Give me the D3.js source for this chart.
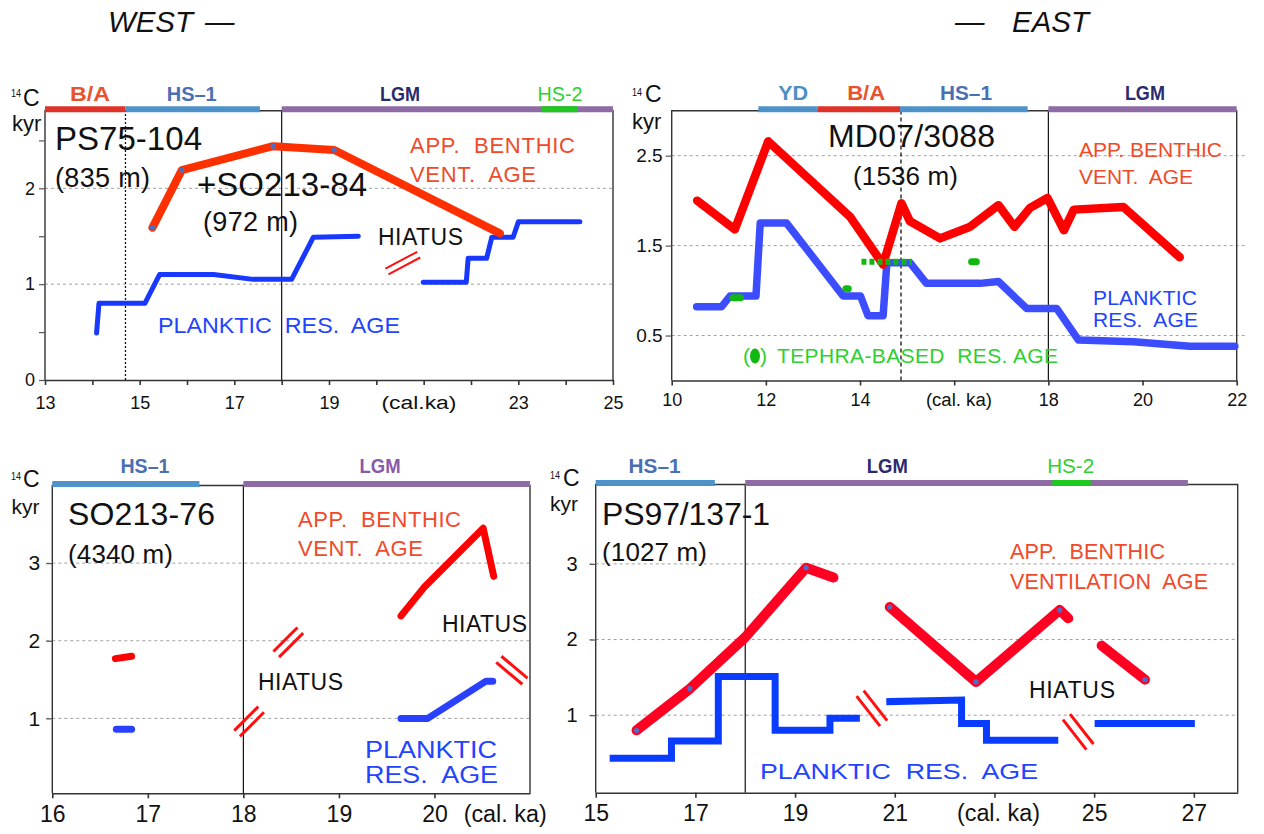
<!DOCTYPE html>
<html>
<head>
<meta charset="utf-8">
<script src="https://cdn.jsdelivr.net/npm/d3@7"></script>
<style>
  body { margin: 0; background: #fff; }
  svg text { font-family: "Liberation Sans", Arial, sans-serif; }
</style>
</head>
<body>
<svg id="chart" width="1264" height="834"></svg>
<script>
// ---------- data ----------
// PS75-104 + SO213-84 (west, top left)
const p1Ticks = [13, 14, 15, 16, 17, 18, 19, 20, 21, 22, 23, 24, 25];
const p1TickLabels = ["13", "", "15", "", "17", "", "19", "", "", "", "23", "", "25"];
const p1YTicks = [0, 0.5, 1, 1.5, 2, 2.5];
const p1YLabels = ["0", "", "1", "", "2", ""];
const p1Grid = [1, 2];
const p1Periods = [
  { name: "B/A", from: 13, to: 14.7 },
  { name: "HS–1", from: 14.7, to: 17.54 },
  { name: "LGM", from: 18, to: 25 },
  { name: "HS-2", from: 23.5, to: 24.25 }
];
const p1Benthic = [
  [[15.27, 1.59], [15.89, 2.19], [17.82, 2.44], [19.11, 2.40], [22.61, 1.53]]
];
const p1BenthicDots = [[15.27, 1.59], [15.89, 2.19], [17.82, 2.44], [19.11, 2.40]];
const p1Planktic = [
  [[14.09, 0.49], [14.14, 0.80], [15.11, 0.80], [15.42, 1.10], [16.56, 1.10], [17.40, 1.05],
   [18.21, 1.05], [18.67, 1.49], [19.62, 1.50]],
  [[20.99, 1.02], [21.90, 1.02], [21.94, 1.27], [22.33, 1.27], [22.44, 1.49], [22.89, 1.49],
   [23.00, 1.65], [24.30, 1.65]]
];
const p1Hiatus = [{ x: 20.56, y: 1.22, tilt: 28 }];

// MD07/3088 (east, top right)
const p2Ticks = [10, 12, 14, 16, 18, 20, 22];
const p2TickLabels = ["10", "12", "14", "", "18", "20", "22"];
const p2YTicks = [0.5, 1.5, 2.5];
const p2YLabels = ["0.5", "1.5", "2.5"];
const p2Grid = [0.5, 1.5, 2.5];
const p2Periods = [
  { name: "YD", from: 11.84, to: 13.1 },
  { name: "B/A", from: 13.1, to: 14.85 },
  { name: "HS–1", from: 14.85, to: 17.56 },
  { name: "LGM", from: 18, to: 22 }
];
const p2Benthic = [
  [[10.54, 2.00], [11.34, 1.68], [12.05, 2.66], [13.79, 1.82], [14.49, 1.29], [14.88, 1.97],
   [15.06, 1.77], [15.70, 1.58], [16.34, 1.71], [16.94, 1.95], [17.28, 1.71], [17.61, 1.92],
   [17.98, 2.03], [18.33, 1.67], [18.54, 1.90], [19.59, 1.93], [20.79, 1.37]]
];
const p2Planktic = [
  [[10.53, 0.82], [11.06, 0.82], [11.24, 0.94], [11.79, 0.94], [11.88, 1.75], [12.44, 1.75],
   [13.64, 0.94], [14.01, 0.94], [14.17, 0.72], [14.49, 0.72], [14.57, 1.31], [15.06, 1.31],
   [15.41, 1.08], [16.55, 1.08], [16.94, 1.10], [17.54, 0.80], [18.18, 0.80], [18.64, 0.45],
   [19.81, 0.43], [21.00, 0.38], [21.96, 0.38]]
];
const p2Tephra = [
  [[11.30, 0.92], [11.46, 0.92]],
  [[13.70, 1.02], [13.75, 1.02]],
  [[16.37, 1.32], [16.47, 1.32]]
];
const p2TephraRange = [[14.03, 1.32], [15.10, 1.32]];

// SO213-76 (west, bottom left)
const p3Ticks = [16, 17, 18, 19, 20];
const p3TickLabels = ["16", "17", "18", "19", "20"];
const p3YTicks = [1, 2, 3];
const p3YLabels = ["1", "2", "3"];
const p3Grid = [1, 2, 3];
const p3Periods = [
  { name: "HS–1", from: 16, to: 17.54 },
  { name: "LGM", from: 18, to: 21 }
];
const p3Benthic = [
  [[16.66, 1.77], [16.83, 1.80]],
  [[19.65, 2.32], [19.90, 2.70], [20.51, 3.45], [20.62, 2.83]]
];
const p3Planktic = [
  [[16.67, 0.86], [16.83, 0.86]],
  [[19.65, 1.00], [19.93, 1.00], [20.54, 1.48], [20.61, 1.48]]
];
const p3Hiatus = [
  { x: 18.06, y: 0.96, tilt: 45 },
  { x: 18.47, y: 1.98, tilt: 45 },
  { x: 20.81, y: 1.62, tilt: -40 }
];

// PS97/137-1 (east, bottom right)
const p4Ticks = [15, 17, 19, 21, 23, 25, 27];
const p4TickLabels = ["15", "17", "19", "21", "", "25", "27"];
const p4YTicks = [1, 2, 3];
const p4YLabels = ["1", "2", "3"];
const p4Grid = [1, 2, 3];
const p4Periods = [
  { name: "HS–1", from: 15, to: 17.39 },
  { name: "LGM", from: 18, to: 26.88 },
  { name: "HS-2", from: 24.16, to: 24.93 }
];
const p4Benthic = [
  [[15.82, 0.80], [16.89, 1.35], [18.00, 2.03], [19.22, 2.95], [19.77, 2.82]],
  [[20.90, 2.43], [22.63, 1.44], [24.31, 2.39], [24.48, 2.28]],
  [[25.15, 1.92], [26.02, 1.47]]
];
const p4BenthicDots = [[15.82, 0.80], [16.89, 1.35], [19.22, 2.95], [20.90, 2.43],
  [22.63, 1.44], [24.31, 2.39], [26.02, 1.47]];
const p4Planktic = [
  [[15.35, 0.43], [16.52, 0.43], [16.52, 0.66], [17.46, 0.66], [17.46, 1.51], [18.60, 1.51],
   [18.60, 0.80], [19.70, 0.80], [19.70, 0.96], [20.23, 0.96]],
  [[20.90, 1.18], [22.34, 1.20], [22.34, 0.89], [22.84, 0.89], [22.84, 0.67], [24.21, 0.67]],
  [[25.08, 0.89], [26.95, 0.89]]
];
const p4Hiatus = [
  { x: 20.54, y: 1.09, tilt: -52 },
  { x: 24.68, y: 0.78, tilt: -52 }
];

// ---------- styles ----------
const periodStyle = {
  "B/A":  { bar: "#e03228", text: "#e8532d" },
  "HS–1": { bar: "#4d92c9", text: "#4a6fb2" },
  "YD":   { bar: "#4d92c9", text: "#4d8ec6" },
  "LGM":  { bar: "#8f6ba6", text: "#2a2a6e" },
  "HS-2": { bar: "#1ec81e", text: "#2ed12e" }
};
const RED_TXT = "#f04a2a", BLUE_TXT = "#2244ff", GREEN_TXT = "#2fcf2f";

const panels = [
  {
    xDomain: [13, 25], xRange: [45, 613], yDomain: [0, 2.81], yRange: [380, 110.7],
    ticks: p1Ticks, tickLabels: p1TickLabels, yTicks: p1YTicks, yLabels: p1YLabels, grid: p1Grid,
    xFont: 18, yFont: 18, xPad: 11, yPad: 4, gridExt: [0, 0],
    xUnit: { at: 20.9, text: "(cal.ka)", len: 75 },
    periods: p1Periods, labelBase: 101,
    labelAt: { "B/A": [13.95, 40], "HS–1": [16.1, 50], "LGM": [20.5, 40], "HS-2": [23.88, 45] },
    vlines: [{ at: 18, dash: null }, { at: 14.7, dash: "2,2" }],
    benthic: p1Benthic, benthicColor: "#ff3000", benthicW: 8,
    planktic: p1Planktic, plankticColor: "#1838ff", plankticW: 5, plankticJoin: "round",
    dots: p1BenthicDots,
    hiatus: p1Hiatus, hiatusLen: 36, hiatusGap: 6.5, hiatusW: 2,
    yLab: { sx: 11, sy: 97, cx: 23, cy: 106, kx: 12, ky: 131, kyrSize: 22 }
  },
  {
    xDomain: [10, 22], xRange: [671.7, 1236.7], yDomain: [0, 3], yRange: [380.5, 110.7],
    ticks: p2Ticks, tickLabels: p2TickLabels, yTicks: p2YTicks, yLabels: p2YLabels, grid: p2Grid,
    xFont: 18, yFont: 19, xPad: 8, yPad: 3, gridExt: [0, 8],
    xUnit: { at: 16.1, text: "(cal. ka)", len: 66 },
    periods: p2Periods, labelBase: 100,
    labelAt: { "YD": [12.58, 30], "B/A": [14.13, 38], "HS–1": [16.25, 52], "LGM": [20.05, 40] },
    vlines: [{ at: 18, dash: null }, { at: 14.87, dash: "4,3" }],
    benthic: p2Benthic, benthicColor: "#ff0000", benthicW: 8.5,
    planktic: p2Planktic, plankticColor: "#3c4cff", plankticW: 7.5, plankticJoin: "round",
    dots: [], hiatus: [],
    yLab: { sx: 632, sy: 96, cx: 645, cy: 102, kx: 632, ky: 129, kyrSize: 22 }
  },
  {
    xDomain: [16, 21], xRange: [52.3, 530], yDomain: [0.035, 4.0], yRange: [793.3, 485.5],
    ticks: p3Ticks, tickLabels: p3TickLabels, yTicks: p3YTicks, yLabels: p3YLabels, grid: p3Grid,
    xFont: 23, yFont: 21, xPad: 7, yPad: 6, gridExt: [6, 0],
    xUnit: { at: 20.74, text: "(cal. ka)", len: 83 },
    periods: p3Periods, labelBase: 473,
    labelAt: { "HS–1": [16.97, 49], "LGM": [19.43, 41] },
    labelColor: { "LGM": "#8a5aa8" },
    vlines: [{ at: 18, dash: null }],
    benthic: p3Benthic, benthicColor: "#ff0000", benthicW: 7,
    planktic: p3Planktic, plankticColor: "#2a40ff", plankticW: 7, plankticJoin: "round",
    dots: [],
    hiatus: p3Hiatus, hiatusLen: 34, hiatusGap: 8, hiatusW: 3,
    yLab: { sx: 11, sy: 480, cx: 23, cy: 487, kx: 11.5, ky: 514, kyrSize: 21 }
  },
  {
    xDomain: [15, 27.88], xRange: [595.7, 1237.7], yDomain: [-0.025, 4.05], yRange: [792.7, 484.5],
    ticks: p4Ticks, tickLabels: p4TickLabels, yTicks: p4YTicks, yLabels: p4YLabels, grid: p4Grid,
    xFont: 23, yFont: 20, xPad: 7, yPad: 12, gridExt: [6, 0],
    xUnit: { at: 23.08, text: "(cal. ka)", len: 83 },
    periods: p4Periods, labelBase: 473,
    labelAt: { "HS–1": [16.18, 52], "LGM": [20.85, 41], "HS-2": [24.53, 47] },
    vlines: [{ at: 18, dash: null }],
    benthic: p4Benthic, benthicColor: "#ff0022", benthicW: 10,
    planktic: p4Planktic, plankticColor: "#0a3cff", plankticW: 7, plankticJoin: "miter",
    dots: p4BenthicDots,
    hiatus: p4Hiatus, hiatusLen: 38, hiatusGap: 9, hiatusW: 3,
    yLab: { sx: 550, sy: 479, cx: 563, cy: 486, kx: 550, ky: 511, kyrSize: 21 }
  }
];

// free-standing labels (pixel layout); fit: "g" stretches glyphs to the width
const notes = [
  // panel 1
  { t: "PS75-104", x: 55, y: 150, s: 33, c: "#111", len: 147 },
  { t: "(835 m)", x: 55, y: 187, s: 27, c: "#111", len: 95 },
  { t: "+SO213-84", x: 197, y: 196, s: 33, c: "#111", len: 170 },
  { t: "(972 m)", x: 203, y: 231, s: 27, c: "#111", len: 95 },
  { t: "APP.\u00a0 BENTHIC", x: 410, y: 153, s: 22, c: RED_TXT, len: 165 },
  { t: "VENT.\u00a0 AGE", x: 410, y: 182, s: 22, c: RED_TXT, len: 126 },
  { t: "HIATUS", x: 378, y: 245, s: 23, c: "#111", len: 85 },
  { t: "PLANKTIC\u00a0 RES.\u00a0 AGE", x: 158, y: 333, s: 22, c: BLUE_TXT, len: 242, fit: "g" },
  // panel 2
  { t: "MD07/3088", x: 828, y: 147, s: 32, c: "#111", len: 167 },
  { t: "(1536 m)", x: 853, y: 185, s: 26, c: "#111", len: 105 },
  { t: "APP. BENTHIC", x: 1079, y: 157, s: 21, c: RED_TXT, len: 143 },
  { t: "VENT.\u00a0 AGE", x: 1079, y: 184, s: 21, c: RED_TXT, len: 114 },
  { t: "PLANKTIC", x: 1093, y: 305, s: 21, c: BLUE_TXT, len: 104 },
  { t: "RES.\u00a0 AGE", x: 1093, y: 327, s: 21, c: BLUE_TXT, len: 105 },
  { t: "(", x: 743, y: 363, s: 21, c: GREEN_TXT },
  { t: ")", x: 760, y: 363, s: 21, c: GREEN_TXT },
  { t: "TEPHRA-BASED\u00a0 RES. AGE", x: 777, y: 363, s: 21, c: GREEN_TXT, len: 281 },
  // panel 3
  { t: "SO213-76", x: 68, y: 525, s: 32, c: "#111", len: 147 },
  { t: "(4340 m)", x: 68, y: 563, s: 26, c: "#111", len: 105 },
  { t: "APP.\u00a0 BENTHIC", x: 298, y: 527, s: 22, c: RED_TXT, len: 163 },
  { t: "VENT.\u00a0 AGE", x: 298, y: 556, s: 22, c: RED_TXT, len: 125 },
  { t: "HIATUS", x: 442, y: 632, s: 23, c: "#111", len: 85 },
  { t: "HIATUS", x: 258, y: 690, s: 23, c: "#111", len: 85 },
  { t: "PLANKTIC", x: 365, y: 758, s: 23, c: BLUE_TXT, len: 132, fit: "g" },
  { t: "RES.\u00a0 AGE", x: 365, y: 783, s: 23, c: BLUE_TXT, len: 133, fit: "g" },
  // panel 4
  { t: "PS97/137-1", x: 602, y: 525, s: 32, c: "#111", len: 168 },
  { t: "(1027 m)", x: 602, y: 561, s: 26, c: "#111", len: 105 },
  { t: "APP.\u00a0 BENTHIC", x: 1010, y: 559, s: 21.5, c: RED_TXT, len: 155 },
  { t: "VENTILATION\u00a0 AGE", x: 1010, y: 589, s: 21.5, c: RED_TXT, len: 198 },
  { t: "HIATUS", x: 1029, y: 698, s: 23, c: "#111", len: 86 },
  { t: "PLANKTIC\u00a0 RES.\u00a0 AGE", x: 760, y: 779, s: 22, c: BLUE_TXT, len: 278, fit: "g" }
];

// ---------- drawing ----------
const svg = d3.select("#chart");

function drawPanel(p) {
  const x = d3.scaleLinear().domain(p.xDomain).range(p.xRange);
  const y = d3.scaleLinear().domain(p.yDomain).range(p.yRange);
  const [x0, x1] = p.xRange, [yb, yt] = p.yRange;
  const g = svg.append("g");

  g.selectAll("line.grid").data(p.grid).join("line")
    .attr("class", "grid")
    .attr("x1", x0 - p.gridExt[0]).attr("x2", x1 + p.gridExt[1])
    .attr("y1", d => y(d)).attr("y2", d => y(d))
    .attr("stroke", "#a0a0a0").attr("stroke-width", 1).attr("stroke-dasharray", "3,3");

  g.append("path")
    .attr("d", `M${x0},${yb}V${yt}H${x1}V${yb}`)
    .attr("fill", "none").attr("stroke", "#333").attr("stroke-width", 1.4);

  g.selectAll("line.vl").data(p.vlines).join("line")
    .attr("class", "vl")
    .attr("x1", d => x(d.at)).attr("x2", d => x(d.at))
    .attr("y1", yb).attr("y2", yt)
    .attr("stroke", "#111").attr("stroke-width", d => d.dash ? 1.3 : 1.2)
    .attr("stroke-dasharray", d => d.dash);

  // axes
  const xa = d3.axisBottom(x).tickValues(p.ticks)
    .tickFormat((d, i) => p.tickLabels[i]).tickSize(5).tickSizeOuter(0).tickPadding(p.xPad);
  g.append("g").attr("transform", `translate(0,${yb})`).call(xa)
    .call(s => {
      s.attr("font-family", null).attr("font-size", p.xFont);
      s.select(".domain").attr("stroke", "#333").attr("stroke-width", 1.4);
      s.selectAll(".tick line").attr("stroke", "#333").attr("stroke-width", 1.6);
      s.selectAll("text").attr("fill", "#111");
    });
  g.append("text").attr("x", x(p.xUnit.at)).attr("y", yb + 5 + p.xPad)
    .attr("dy", "0.71em").attr("text-anchor", "middle")
    .attr("font-size", p.xFont).attr("fill", "#111")
    .attr("textLength", p.xUnit.len).attr("lengthAdjust", "spacingAndGlyphs")
    .text(p.xUnit.text);

  const ya = d3.axisLeft(y).tickValues(p.yTicks)
    .tickFormat((d, i) => p.yLabels[i]).tickSize(6).tickSizeOuter(0).tickPadding(p.yPad);
  g.append("g").attr("transform", `translate(${x0},0)`).call(ya)
    .call(s => {
      s.attr("font-family", null).attr("font-size", p.yFont);
      s.select(".domain").remove();
      s.selectAll(".tick line").attr("stroke", "#555").attr("stroke-width", 1.2);
      s.selectAll("text").attr("fill", "#111");
    });

  // y-axis unit label: superscript 14, C, kyr
  const L = p.yLab;
  g.append("text").attr("x", L.sx).attr("y", L.sy).attr("font-size", 11).attr("fill", "#111")
    .attr("textLength", 10).attr("lengthAdjust", "spacingAndGlyphs").text("14");
  g.append("text").attr("x", L.cx).attr("y", L.cy).attr("font-size", 23).attr("fill", "#111").text("C");
  g.append("text").attr("x", L.kx).attr("y", L.ky).attr("font-size", L.kyrSize).attr("fill", "#111").text("kyr");

  // period bars
  const barY = yt - 1.5;
  g.selectAll("line.period").data(p.periods).join("line")
    .attr("class", "period")
    .attr("x1", d => x(d.from)).attr("x2", d => x(d.to))
    .attr("y1", barY).attr("y2", barY)
    .attr("stroke", d => periodStyle[d.name].bar).attr("stroke-width", 6);
  g.selectAll("text.period").data(p.periods).join("text")
    .attr("class", "period")
    .attr("x", d => x(p.labelAt[d.name][0])).attr("y", p.labelBase)
    .attr("text-anchor", "middle").attr("font-size", 20)
    .attr("font-weight", d => d.name === "HS-2" ? "normal" : "bold")
    .attr("fill", d => (p.labelColor && p.labelColor[d.name]) || periodStyle[d.name].text)
    .attr("textLength", d => p.labelAt[d.name][1]).attr("lengthAdjust", "spacingAndGlyphs")
    .text(d => d.name);

  const line = d3.line().x(d => x(d[0])).y(d => y(d[1]));

  g.selectAll("path.planktic").data(p.planktic).join("path")
    .attr("class", "planktic").attr("d", line)
    .attr("fill", "none").attr("stroke", p.plankticColor).attr("stroke-width", p.plankticW)
    .attr("stroke-linejoin", p.plankticJoin)
    .attr("stroke-linecap", p.plankticJoin === "round" ? "round" : "square");

  g.selectAll("path.benthic").data(p.benthic).join("path")
    .attr("class", "benthic").attr("d", line)
    .attr("fill", "none").attr("stroke", p.benthicColor).attr("stroke-width", p.benthicW)
    .attr("stroke-linejoin", "round").attr("stroke-linecap", "round");

  g.selectAll("circle.dot").data(p.dots).join("circle")
    .attr("class", "dot").attr("cx", d => x(d[0])).attr("cy", d => y(d[1]))
    .attr("r", 2.6).attr("fill", "#4a6fc8");

  // hiatus marks: two short parallel strokes
  p.hiatus.forEach(h => {
    const cx = x(h.x), cy = y(h.y), a = h.tilt * Math.PI / 180;
    const ux = Math.cos(a) * p.hiatusLen / 2, uy = -Math.sin(a) * p.hiatusLen / 2;
    const nx = Math.sin(a), ny = Math.cos(a);
    [-0.5, 0.5].forEach(k => {
      const ox = nx * p.hiatusGap * k, oy = ny * p.hiatusGap * k;
      g.append("line")
        .attr("x1", cx - ux + ox).attr("y1", cy - uy + oy)
        .attr("x2", cx + ux + ox).attr("y2", cy + uy + oy)
        .attr("stroke", "#ff1010").attr("stroke-width", p.hiatusW);
    });
  });

  return { x, y, g, line };
}

const drawn = panels.map(drawPanel);

// tephra-based reservoir ages (MD07/3088)
{
  const { g, line } = drawn[1];
  g.selectAll("path.tephra").data(p2Tephra).join("path")
    .attr("class", "tephra").attr("d", line)
    .attr("fill", "none").attr("stroke", "#12b812").attr("stroke-width", 7)
    .attr("stroke-linecap", "round");
  g.append("path").attr("d", line(p2TephraRange))
    .attr("fill", "none").attr("stroke", "#12b812").attr("stroke-width", 6)
    .attr("stroke-dasharray", "5,3");
  g.append("ellipse").attr("cx", 755).attr("cy", 356).attr("rx", 5).attr("ry", 7.5)
    .attr("fill", "#12b812");
}

// annotations
svg.append("g").selectAll("text").data(notes).join("text")
  .attr("x", d => d.x).attr("y", d => d.y)
  .attr("font-size", d => d.s).attr("fill", d => d.c)
  .attr("textLength", d => d.len || null)
  .attr("lengthAdjust", d => d.fit === "g" ? "spacingAndGlyphs" : null)
  .text(d => d.t);

// headings
const heads = svg.append("g").attr("font-size", 29.5).attr("font-style", "italic").attr("fill", "#111");
heads.append("text").attr("x", 108).attr("y", 32).attr("textLength", 85).text("WEST");
heads.append("text").attr("x", 205).attr("y", 32).text("—");
heads.append("text").attr("x", 955).attr("y", 32).text("—");
heads.append("text").attr("x", 1012).attr("y", 32).attr("textLength", 77).text("EAST");
</script>
</body>
</html>
